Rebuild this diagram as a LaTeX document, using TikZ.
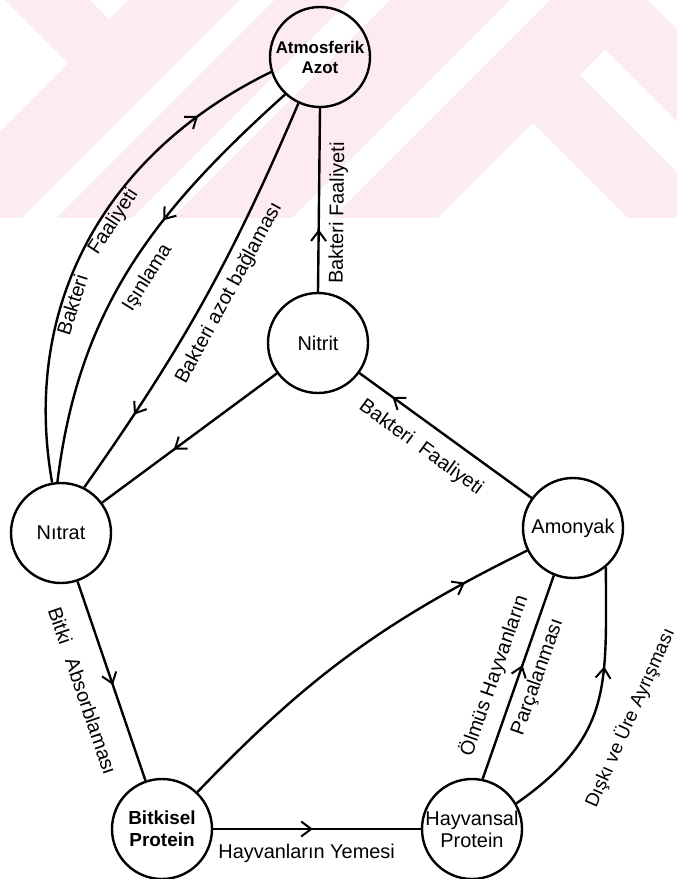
\documentclass[tikz,border=0pt]{standalone}
\usepackage{fontspec}
\setmainfont{Liberation Sans}
\usetikzlibrary{arrows.meta,decorations.markings}
\definecolor{wmpink}{RGB}{252,236,240}
\tikzset{
  state/.style={draw, circle, line width=1.2bp, minimum size=50bp, inner sep=0pt,
    align=center, font=\fontsize{10}{11}\selectfont},
  link/.style={line width=1.2bp},
  flow/.style={link, postaction={decorate}, decoration={markings,
    mark=at position #1 with {\arrow{Straight Barb[length=5bp,width=7.5bp,line width=1bp]}}}},
  lbl/.style={font=\fontsize{10}{12}\selectfont, inner sep=#1, sloped},
  lbl/.default=3bp
}
\begin{document}
\begin{tikzpicture}[x=0.5bp, y=0.5bp]
\useasboundingbox (0,0) rectangle (677,-879);
% watermark band at the top
\fill[wmpink] (0,0) rectangle (677,-218);
\fill[white] (0,0) -- (5,0) -- (68,-63) -- (0,-131) -- cycle;
\fill[white] (90,0) -- (128,0) -- (109,-19) -- cycle;
\fill[white] (240,0) -- (274,0) -- (56,-218) -- (22,-218) -- cycle;
\fill[white] (350,0) -- (390,0) -- (172,-218) -- (132,-218) -- cycle;
\fill[white] (510,0) -- (550,0) -- (332,-218) -- (292,-218) -- cycle;
\fill[white] (533,-123) -- (628,-218) -- (438,-218) -- cycle;
\fill[white] (605,-50) -- (677,-122) -- (677,-172) -- (580,-75) -- cycle;
\fill[white] (648,0) -- (677,0) -- (677,-29) -- cycle;

% states
\node[state, font=\bfseries\fontsize{8.5}{10}\selectfont] (atmos) at (320,-57) {Atmosferik\\Azot};
\node[state] (nitrit) at (318,-343) {Nitrit};
\node[state] (nitrat) at (61,-533) {Nıtrat};
\node[state] (amonyak) at (573,-528) {Amonyak};
\node[state, font=\bfseries\fontsize{9.5}{11}\selectfont] (bitkisel) at (162,-829) {Bitkisel\\Protein};
\node[state] (hayvansal) at (472,-829) {Hayvansal\\Protein};

% transitions
\draw[flow=0.83] (nitrat.100) to[out=100, in=206]
  node[lbl=1bp, pos=0.36, below] {Bakteri}
  node[lbl=1bp, pos=0.56, below] {Faaliyeti} (atmos.197);
\draw[flow=0.38] (atmos.227) to[out=222, in=83]
  node[lbl=5bp, pos=0.5, below] {Işınlama} (nitrat.94);
\draw[flow=0.8] (atmos.245) to[bend left=6]
  node[lbl=4bp, pos=0.45, below] {Bakteri azot bağlaması} (nitrat.63);
\draw[flow=0.34] (nitrit.north) --
  node[lbl=4.5bp, pos=0.43, below] {Bakteri Faaliyeti} (atmos.south);
\draw[flow=0.59] (nitrit) -- (nitrat);
\draw[flow=0.81] (amonyak) --
  node[lbl=7bp, pos=0.56, below] {Bakteri\ \ Faaliyeti} (nitrit);
\draw[flow=0.52] (nitrat) --
  node[lbl=11bp, pos=0.5, below] {Bitki\hspace{8bp}Absorblaması} (bitkisel);
\draw[flow=0.48] (bitkisel) --
  node[lbl=7bp, pos=0.45, below] {Hayvanların Yemesi} (hayvansal);
\draw[flow=0.83] (bitkisel) to[bend left=10] (amonyak);
\draw[flow=0.56] (hayvansal.78) --
  node[lbl=6bp, pos=0.47, above] {Ölmüs Hayvanların}
  node[lbl=4bp, pos=0.53, below] {Parçalanması} (amonyak.248);
\draw[flow=0.63] (hayvansal.30) to[out=35, in=-90, looseness=1.2] (amonyak.-50);
\node[font=\fontsize{9.5}{12}\selectfont, rotate=66] (diski) at (630,-718) {Dışkı ve Üre Ayrışması};
\end{tikzpicture}
\end{document}
